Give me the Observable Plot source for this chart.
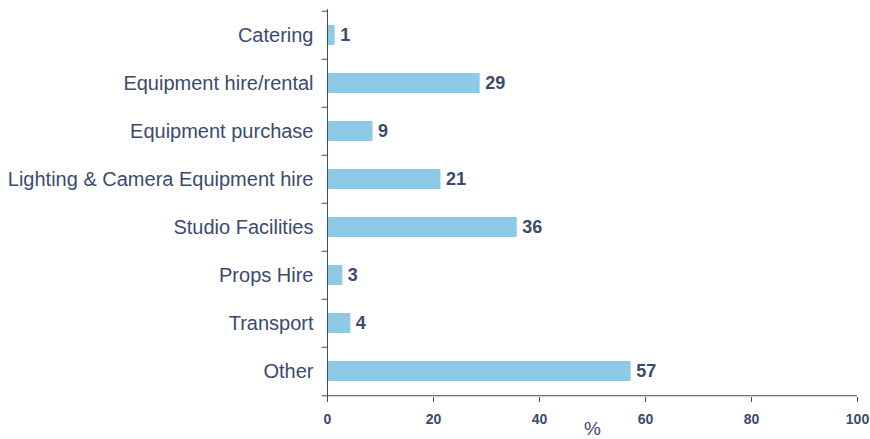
<!DOCTYPE html>
<html>
<head>
<meta charset="utf-8">
<script src="https://cdn.jsdelivr.net/npm/d3@7"></script>
<script src="https://cdn.jsdelivr.net/npm/@observablehq/plot@0.6"></script>
<style>
  html, body { margin: 0; padding: 0; background: #fff; }
  #chart svg { display: block; }
</style>
</head>
<body>
<div id="chart"></div>
<script>
const categories = ["Catering", "Equipment hire/rental", "Equipment purchase", "Lighting & Camera Equipment hire", "Studio Facilities", "Props Hire", "Transport", "Other"];
const values = [1.45, 28.8, 8.6, 21.4, 35.8, 2.9, 4.4, 57.3];
const xTicks = [0, 20, 40, 60, 80, 100];
const xLabel = "%";

const data = categories.map((c, i) => ({category: c, value: values[i]}));

const W = 870, H = 439;
const mTop = 9, mBottom = 42, mLeft = 327, mRight = 13;
const step = (H - mTop - mBottom) / categories.length;
const ink = "#3b4a6d";
const barColor = "#8ecae6";

const chart = Plot.plot({
  width: W,
  height: H,
  marginTop: mTop,
  marginBottom: mBottom,
  marginLeft: mLeft,
  marginRight: mRight,
  style: {fontFamily: "Liberation Sans, Arial, sans-serif", color: ink, background: "#fff", overflow: "visible"},
  x: {domain: [0, 100]},
  y: {domain: categories, paddingInner: 0.58, paddingOuter: 0.29},
  marks: [
    Plot.barX(data, {y: "category", x: "value", fill: barColor}),
    Plot.text(data, {y: "category", x: "value", text: d => String(Math.round(d.value)), textAnchor: "start", dx: 5, fontSize: 18, fontWeight: "bold", fill: ink}),
    Plot.axisY({tickSize: 0, tickPadding: 14, fontSize: 20, fill: ink, label: null}),
    // y axis line
    Plot.ruleX([0], {stroke: ink, strokeWidth: 1}),
    // y ticks at band boundaries
    Plot.ruleY(categories, {y: d => d, x1: -1, x2: 0, dy: -step / 2, stroke: ink}),
    Plot.ruleY([categories[categories.length - 1]], {y: d => d, x1: -1, x2: 0, dy: step / 2, stroke: ink}),
    // x axis line
    Plot.ruleY([categories[categories.length - 1]], {y: d => d, x1: 0, x2: 100, dy: step / 2, stroke: ink}),
    Plot.axisX({ticks: xTicks, tickSize: 5, tickPadding: 12, fontSize: 14, fontWeight: "bold", fill: ink, stroke: ink, label: null}),
    Plot.text([xLabel], {x: () => 50, frameAnchor: "bottom", dy: 31, text: d => d, fontSize: 19, fill: ink, lineAnchor: "middle"})
  ]
});
document.getElementById("chart").appendChild(chart);
</script>
</body>
</html>
